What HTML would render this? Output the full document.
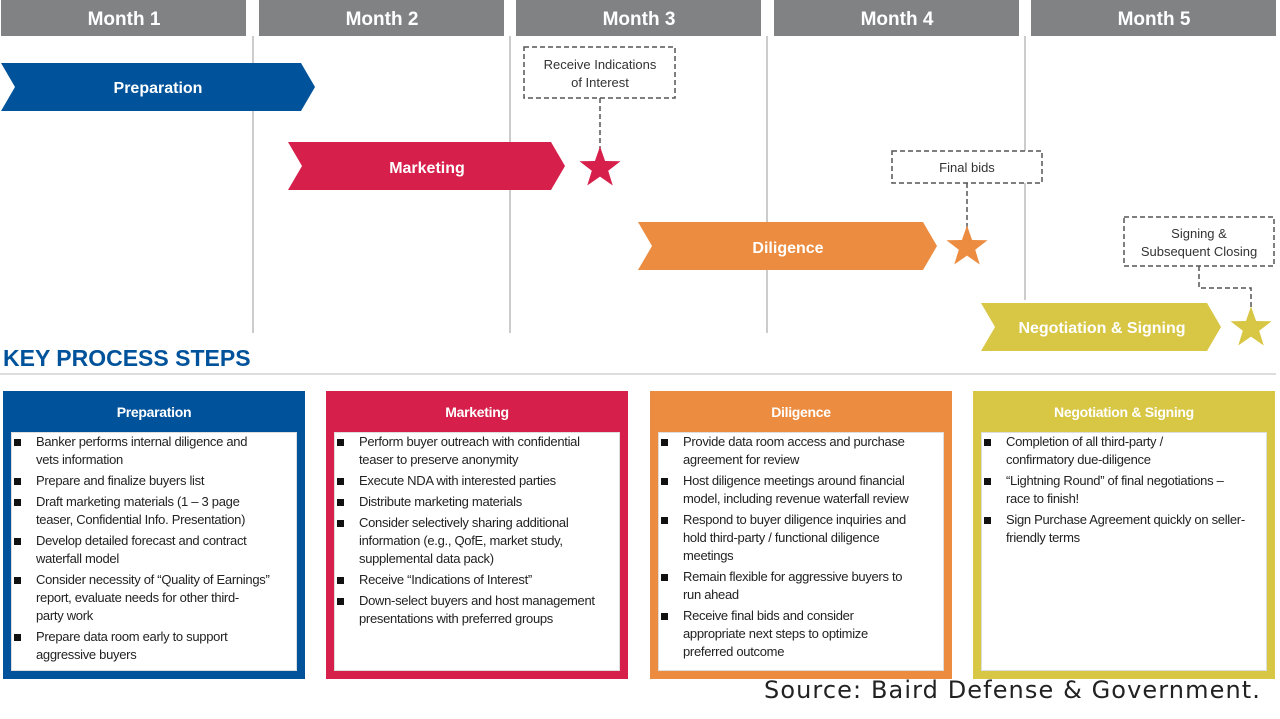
<!DOCTYPE html>
<html><head><meta charset="utf-8"><style>
*{margin:0;padding:0;box-sizing:border-box}
body{width:1280px;height:719px;background:#fff;position:relative;overflow:hidden;font-family:"Liberation Sans",sans-serif}
.box{position:absolute;top:391px;width:302px;height:288px;border:4px solid;}
.box .h{height:33px;color:#fff;font-weight:bold;font-size:14px;text-align:center;line-height:34px;letter-spacing:-0.3px}
.box .b{position:absolute;top:37px;left:4px;right:4px;bottom:4px;background:#fff;border:1px solid #ddd}
ul{list-style:none;padding:0 0 0 0}
li{position:relative;padding-left:24px;font-size:13px;line-height:18px;color:#222;white-space:nowrap;letter-spacing:-0.3px;margin-bottom:3px}
li:before{content:"";position:absolute;left:2px;top:6px;width:7px;height:7px;background:#111}
.src{position:absolute;left:764px;top:676px;font-family:"DejaVu Sans",sans-serif;font-size:24px;color:#222;letter-spacing:1.1px;white-space:nowrap}
</style></head><body>
<svg width="1280" height="380" style="position:absolute;left:0;top:0" font-family="Liberation Sans, sans-serif">
<g fill="#808284">
<rect x="1" y="0" width="245" height="36"/><rect x="259" y="0" width="245" height="36"/><rect x="516" y="0" width="245" height="36"/><rect x="774" y="0" width="245" height="36"/><rect x="1031" y="0" width="245" height="36"/>
</g>
<g fill="#fff" font-size="19" font-weight="bold" text-anchor="middle">
<text x="124" y="25">Month 1</text><text x="382" y="25">Month 2</text><text x="639" y="25">Month 3</text><text x="897" y="25">Month 4</text><text x="1154" y="25">Month 5</text>
</g>
<g stroke="#bbb" stroke-width="1.5">
<line x1="253" y1="36" x2="253" y2="333"/><line x1="510" y1="36" x2="510" y2="333"/><line x1="767" y1="36" x2="767" y2="333"/><line x1="1025" y1="36" x2="1025" y2="300"/>
</g>
<polygon points="1,63 301,63 315,87 301,111 1,111 15,87" fill="#00529b"/>
<polygon points="288,142 551,142 565,166 551,190 288,190 302,166" fill="#d61f4b"/>
<polygon points="638,222 923,222 937,246 923,270 638,270 652,246" fill="#ec8c40"/>
<polygon points="981,303 1207,303 1221,327 1207,351 981,351 995,327" fill="#d8c645"/>
<g fill="#fff" font-size="16" font-weight="bold" text-anchor="middle">
<text x="158" y="93">Preparation</text><text x="427" y="173">Marketing</text><text x="788" y="253">Diligence</text><text x="1102" y="333">Negotiation &amp; Signing</text>
</g>
<g fill="none" stroke="#555" stroke-width="1.5" stroke-dasharray="5,3">
<rect x="524" y="47" width="151" height="51" fill="#fff"/>
<rect x="892" y="151" width="150" height="32" fill="#fff"/>
<rect x="1124" y="217" width="150" height="49" fill="#fff"/>
<path d="M600 98V150M967 183V230M1199 266V288H1251V310"/>
</g>
<g fill="#333" font-size="13" text-anchor="middle">
<text x="600" y="69">Receive Indications</text><text x="600" y="87">of Interest</text>
<text x="967" y="172">Final bids</text>
<text x="1199" y="238">Signing &amp;</text><text x="1199" y="256">Subsequent Closing</text>
</g>
<g>
<polygon transform="translate(600,168) scale(1.08)" fill="#d61f4b" points="0,-20 4.7,-6.5 19,-6.2 7.6,2.5 11.8,16.2 0,8 -11.8,16.2 -7.6,2.5 -19,-6.2 -4.7,-6.5"/>
<polygon transform="translate(967,247) scale(1.08)" fill="#ec8c40" points="0,-20 4.7,-6.5 19,-6.2 7.6,2.5 11.8,16.2 0,8 -11.8,16.2 -7.6,2.5 -19,-6.2 -4.7,-6.5"/>
<polygon transform="translate(1251,328) scale(1.08)" fill="#d8c645" points="0,-20 4.7,-6.5 19,-6.2 7.6,2.5 11.8,16.2 0,8 -11.8,16.2 -7.6,2.5 -19,-6.2 -4.7,-6.5"/>
</g>
<text x="3" y="366" fill="#00529b" font-size="23" font-weight="bold">KEY PROCESS STEPS</text>
<line x1="0" y1="374" x2="1276" y2="374" stroke="#ddd" stroke-width="2"/>
</svg>

<div class="box" style="left:3px;border-color:#00529b;background:#00529b"><div class="h">Preparation</div><div class="b"><ul>
<li>Banker performs internal diligence and<br>vets information</li>
<li>Prepare and finalize buyers list</li>
<li>Draft marketing materials (1 – 3 page<br>teaser, Confidential Info. Presentation)</li>
<li>Develop detailed forecast and contract<br>waterfall model</li>
<li>Consider necessity of “Quality of Earnings”<br>report, evaluate needs for other third-<br>party work</li>
<li>Prepare data room early to support<br>aggressive buyers</li>
</ul></div></div>

<div class="box" style="left:326px;border-color:#d61f4b;background:#d61f4b"><div class="h">Marketing</div><div class="b"><ul>
<li>Perform buyer outreach with confidential<br>teaser to preserve anonymity</li>
<li>Execute NDA with interested parties</li>
<li>Distribute marketing materials</li>
<li>Consider selectively sharing additional<br>information (e.g., QofE, market study,<br>supplemental data pack)</li>
<li>Receive “Indications of Interest”</li>
<li>Down-select buyers and host management<br>presentations with preferred groups</li>
</ul></div></div>

<div class="box" style="left:650px;border-color:#ec8c40;background:#ec8c40"><div class="h">Diligence</div><div class="b"><ul>
<li>Provide data room access and purchase<br>agreement for review</li>
<li>Host diligence meetings around financial<br>model, including revenue waterfall review</li>
<li>Respond to buyer diligence inquiries and<br>hold third-party / functional diligence<br>meetings</li>
<li>Remain flexible for aggressive buyers to<br>run ahead</li>
<li>Receive final bids and consider<br>appropriate next steps to optimize<br>preferred outcome</li>
</ul></div></div>

<div class="box" style="left:973px;border-color:#d8c645;background:#d8c645"><div class="h">Negotiation &amp; Signing</div><div class="b"><ul>
<li>Completion of all third-party /<br>confirmatory due-diligence</li>
<li>“Lightning Round” of final negotiations –<br>race to finish!</li>
<li>Sign Purchase Agreement quickly on seller-<br>friendly terms</li>
</ul></div></div>

<div class="src">Source: Baird Defense &amp; Government.</div>
</body></html>
